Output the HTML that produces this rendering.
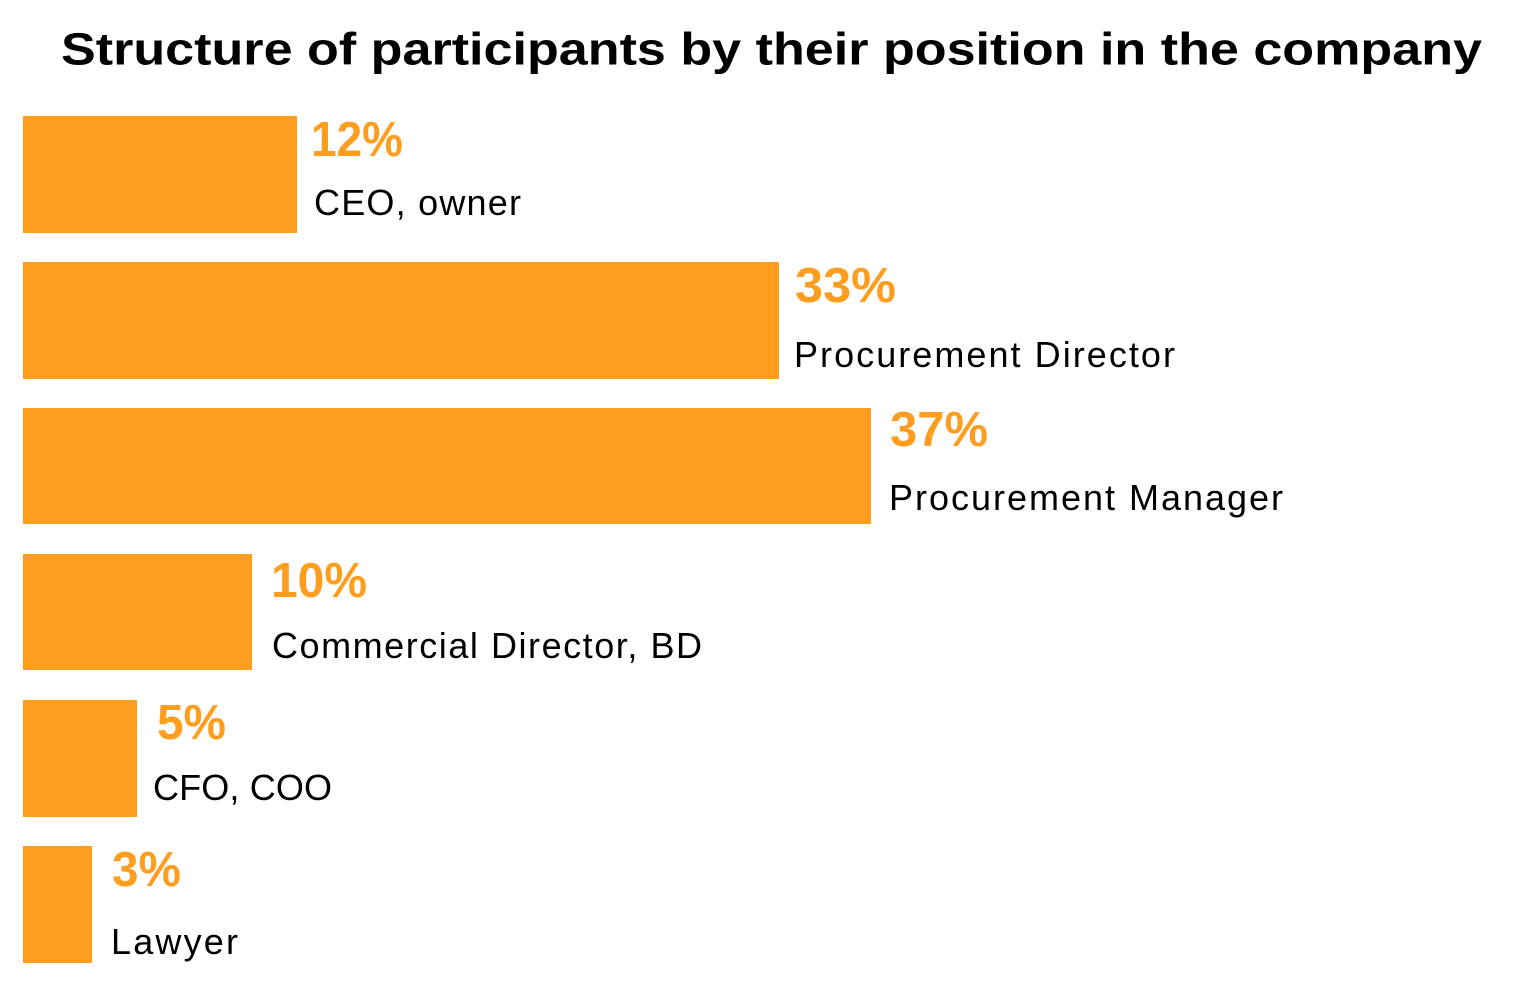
<!DOCTYPE html>
<html>
<head>
<meta charset="utf-8">
<style>
  html, body { margin:0; padding:0; background:#ffffff; }
  body { width:1527px; height:984px; overflow:hidden; }
  svg { display:block; }
  .t { font-family:"Liberation Sans", Arial, sans-serif; font-weight:700; font-size:45px; fill:#000; }
  .p { font-family:"Liberation Sans", Arial, sans-serif; font-weight:700; font-size:49px; fill:#FF9D1F; }
  .l { font-family:"Liberation Sans", Arial, sans-serif; font-weight:400; font-size:36px; fill:#000; }
</style>
</head>
<body>
<svg width="1527" height="984" viewBox="0 0 1527 984" xmlns="http://www.w3.org/2000/svg">
  <rect x="0" y="0" width="1527" height="984" fill="#fff"/>
  <text class="t" x="61" y="64.5" textLength="1421" lengthAdjust="spacingAndGlyphs">Structure of participants by their position in the company</text>

  <rect x="23" y="116" width="274" height="117" fill="#FF9D1F"/>
  <rect x="23" y="262" width="756" height="117" fill="#FF9D1F"/>
  <rect x="23" y="408" width="848" height="116" fill="#FF9D1F"/>
  <rect x="23" y="554" width="229" height="116" fill="#FF9D1F"/>
  <rect x="23" y="700" width="114" height="117" fill="#FF9D1F"/>
  <rect x="23" y="846" width="69" height="117" fill="#FF9D1F"/>

  <text class="p" x="311" y="156" textLength="92" lengthAdjust="spacingAndGlyphs">12%</text>
  <text class="l" x="314" y="215" textLength="207" lengthAdjust="spacing">CEO, owner</text>

  <text class="p" x="795" y="302" textLength="101" lengthAdjust="spacingAndGlyphs">33%</text>
  <text class="l" x="794" y="367" textLength="381" lengthAdjust="spacing">Procurement Director</text>

  <text class="p" x="890" y="446" textLength="98" lengthAdjust="spacingAndGlyphs">37%</text>
  <text class="l" x="889" y="510" textLength="394" lengthAdjust="spacing">Procurement Manager</text>

  <text class="p" x="271" y="597" textLength="96" lengthAdjust="spacingAndGlyphs">10%</text>
  <text class="l" x="272" y="658" textLength="430" lengthAdjust="spacing">Commercial Director, BD</text>

  <text class="p" x="157" y="739" textLength="69" lengthAdjust="spacingAndGlyphs">5%</text>
  <text class="l" x="153" y="800" textLength="179" lengthAdjust="spacing">CFO, COO</text>

  <text class="p" x="112" y="886" textLength="69" lengthAdjust="spacingAndGlyphs">3%</text>
  <text class="l" x="111" y="954" textLength="127" lengthAdjust="spacing">Lawyer</text>
</svg>
</body>
</html>
